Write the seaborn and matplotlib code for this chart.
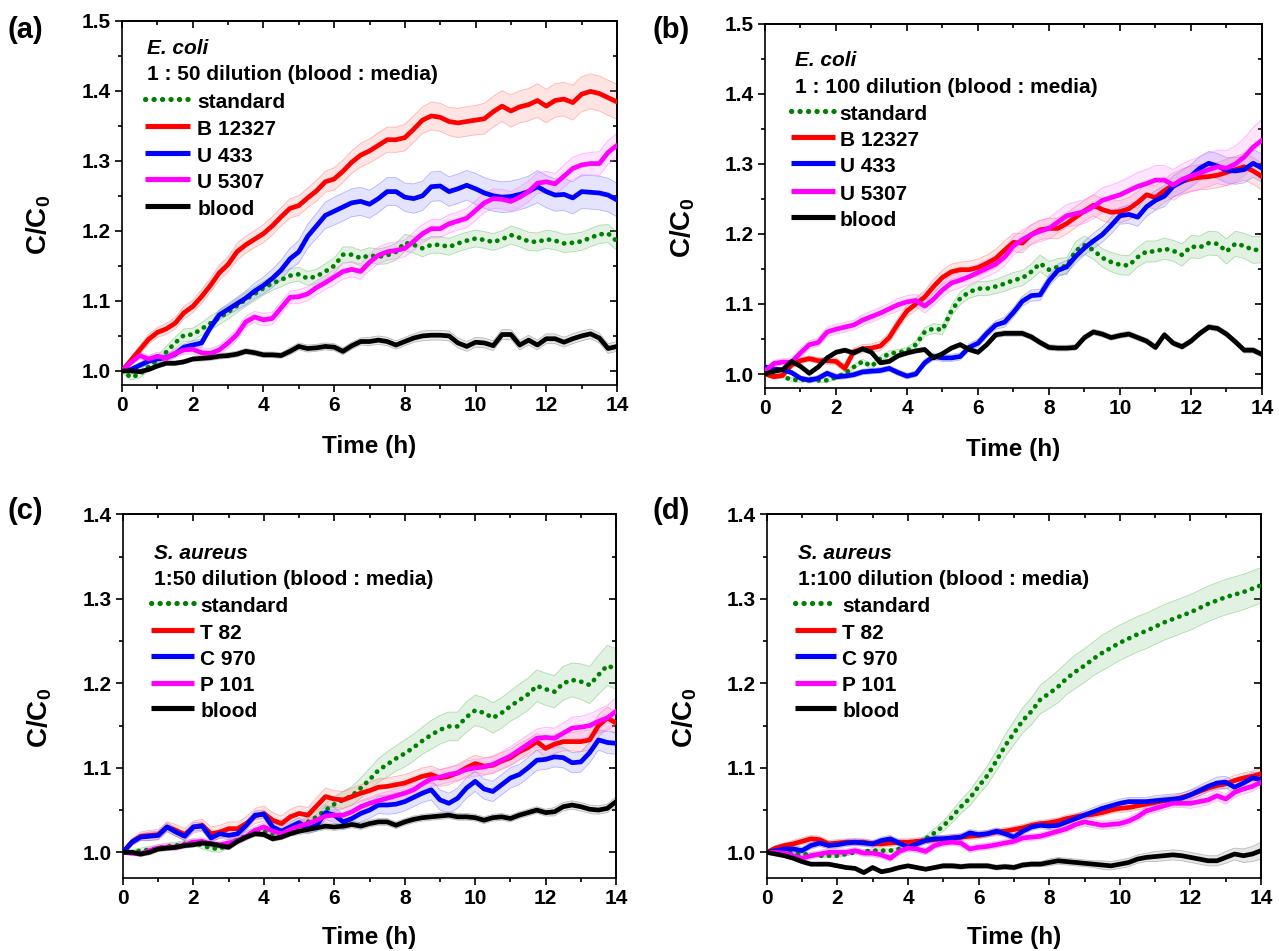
import numpy as np
import matplotlib
matplotlib.use("Agg")
import matplotlib.pyplot as plt
from matplotlib.lines import Line2D
from matplotlib.ticker import MultipleLocator, FormatStrFormatter
import seaborn as sns

# ---------------------------------------------------------------- data
# sampling times (h), every 15 min over 14 h
time_h = np.arange(57) * 0.25

# (a) E. coli, 1:50 dilution
a_standard = [1.000,0.991,0.995,1.006,1.015,1.027,1.040,1.051,1.052,1.060,
              1.068,1.076,1.084,1.093,1.102,1.110,1.118,1.125,1.130,1.136,
              1.138,1.132,1.135,1.142,1.150,1.166,1.166,1.161,1.165,1.163,
              1.165,1.170,1.183,1.180,1.175,1.180,1.180,1.177,1.182,1.186,
              1.189,1.187,1.184,1.188,1.194,1.190,1.185,1.184,1.188,1.186,
              1.182,1.183,1.185,1.190,1.195,1.196,1.185]
a_B12327 = [1.000,1.015,1.030,1.045,1.055,1.060,1.068,1.083,1.092,1.106,
            1.122,1.140,1.152,1.170,1.180,1.188,1.196,1.207,1.220,1.232,
            1.236,1.247,1.257,1.270,1.274,1.285,1.298,1.308,1.314,1.322,
            1.330,1.330,1.333,1.345,1.358,1.364,1.362,1.356,1.354,1.356,
            1.358,1.360,1.370,1.378,1.371,1.377,1.380,1.386,1.378,1.386,
            1.388,1.383,1.395,1.399,1.396,1.390,1.384]
a_U433 = [1.000,1.002,1.008,1.014,1.017,1.019,1.024,1.034,1.037,1.040,
          1.062,1.080,1.088,1.096,1.104,1.114,1.122,1.132,1.144,1.160,
          1.170,1.192,1.207,1.222,1.228,1.234,1.240,1.242,1.238,1.246,
          1.256,1.256,1.248,1.246,1.250,1.263,1.264,1.256,1.260,1.265,
          1.260,1.254,1.250,1.248,1.249,1.252,1.256,1.263,1.256,1.251,
          1.252,1.247,1.256,1.255,1.254,1.251,1.244]
a_U5307 = [1.000,1.012,1.022,1.017,1.021,1.018,1.025,1.030,1.031,1.026,
           1.025,1.030,1.040,1.052,1.070,1.077,1.073,1.075,1.090,1.105,
           1.106,1.110,1.119,1.126,1.134,1.142,1.145,1.142,1.155,1.165,
           1.170,1.172,1.175,1.185,1.196,1.203,1.203,1.210,1.214,1.218,
           1.229,1.240,1.246,1.245,1.242,1.248,1.256,1.268,1.270,1.267,
           1.278,1.289,1.294,1.296,1.296,1.312,1.322]
a_blood = [1.000,1.000,0.999,1.002,1.007,1.011,1.011,1.013,1.017,1.018,
           1.019,1.021,1.022,1.024,1.028,1.026,1.023,1.023,1.022,1.028,
           1.035,1.032,1.033,1.035,1.034,1.028,1.036,1.042,1.042,1.044,
           1.042,1.037,1.042,1.047,1.050,1.051,1.051,1.050,1.040,1.035,
           1.041,1.040,1.036,1.052,1.052,1.037,1.044,1.037,1.046,1.046,
           1.041,1.046,1.050,1.053,1.047,1.032,1.035]

# standard deviations for (a)
a_standard_sd = [0.002,0.004,0.005,0.006,0.007,0.008,0.008,0.009,0.009,0.009,
                 0.010,0.010,0.010,0.010,0.010,0.010,0.010,0.010,0.010,0.010,
                 0.010,0.010,0.010,0.011,0.011,0.011,0.011,0.011,0.011,0.011,
                 0.012,0.012,0.012,0.012,0.012,0.012,0.012,0.012,0.012,0.012,
                 0.012,0.012,0.012,0.012,0.013,0.013,0.013,0.013,0.013,0.013,
                 0.013,0.013,0.013,0.013,0.013,0.013,0.013]
a_B12327_sd = [0.003,0.005,0.006,0.007,0.007,0.008,0.008,0.009,0.009,0.010,
               0.010,0.011,0.011,0.012,0.012,0.012,0.013,0.013,0.013,0.014,
               0.014,0.014,0.015,0.015,0.016,0.016,0.016,0.017,0.017,0.018,
               0.018,0.018,0.019,0.019,0.019,0.020,0.020,0.020,0.021,0.021,
               0.021,0.022,0.022,0.022,0.023,0.023,0.023,0.024,0.024,0.024,
               0.024,0.025,0.025,0.025,0.025,0.025,0.025]
a_U433_sd = [0.002,0.003,0.004,0.004,0.005,0.005,0.005,0.005,0.006,0.006,
             0.006,0.007,0.008,0.009,0.010,0.011,0.012,0.013,0.014,0.015,
             0.016,0.017,0.018,0.019,0.020,0.020,0.020,0.020,0.020,0.020,
             0.020,0.020,0.020,0.021,0.021,0.021,0.021,0.021,0.021,0.021,
             0.022,0.022,0.022,0.022,0.022,0.022,0.022,0.023,0.023,0.023,
             0.023,0.023,0.024,0.024,0.024,0.024,0.024]
a_U5307_sd = [0.002,0.004,0.005,0.005,0.006,0.006,0.006,0.006,0.007,0.007,
              0.007,0.007,0.008,0.008,0.008,0.008,0.009,0.009,0.009,0.009,
              0.010,0.010,0.010,0.010,0.011,0.011,0.011,0.011,0.012,0.012,
              0.012,0.012,0.012,0.013,0.013,0.013,0.013,0.013,0.013,0.014,
              0.014,0.014,0.014,0.014,0.014,0.015,0.015,0.015,0.015,0.015,
              0.016,0.016,0.016,0.016,0.017,0.017,0.017]
a_blood_sd = [0.001,0.002,0.002,0.003,0.003,0.003,0.003,0.003,0.003,0.004,
              0.004,0.004,0.004,0.004,0.004,0.004,0.004,0.004,0.004,0.005,
              0.005,0.005,0.005,0.005,0.005,0.005,0.005,0.005,0.006,0.006,
              0.006,0.006,0.006,0.006,0.007,0.007,0.007,0.007,0.007,0.007,
              0.007,0.007,0.007,0.007,0.007,0.007,0.007,0.007,0.007,0.007,
              0.007,0.007,0.007,0.007,0.007,0.007,0.007]

# (b) E. coli, 1:100 dilution
b_standard = [1.000,1.000,0.996,0.992,0.991,0.993,0.991,0.991,0.995,1.001,
              1.010,1.018,1.011,1.022,1.029,1.031,1.033,1.042,1.060,1.065,
              1.063,1.090,1.108,1.117,1.122,1.122,1.125,1.129,1.134,1.137,
              1.146,1.158,1.149,1.153,1.154,1.176,1.184,1.177,1.166,1.160,
              1.156,1.155,1.167,1.175,1.175,1.179,1.176,1.170,1.182,1.181,
              1.187,1.186,1.175,1.186,1.183,1.177,1.178]
b_B12327 = [1.000,0.996,0.998,1.013,1.019,1.022,1.019,1.019,1.018,1.008,
            1.032,1.036,1.037,1.040,1.052,1.072,1.090,1.100,1.110,1.125,
            1.138,1.146,1.149,1.149,1.152,1.158,1.165,1.177,1.188,1.187,
            1.199,1.206,1.208,1.208,1.215,1.224,1.233,1.241,1.235,1.231,
            1.232,1.236,1.245,1.256,1.252,1.262,1.270,1.275,1.279,1.281,
            1.282,1.284,1.288,1.292,1.296,1.290,1.282]
b_U433 = [1.010,1.007,1.006,1.002,0.994,0.991,0.994,1.001,0.996,0.997,
          0.999,1.003,1.004,1.005,1.008,1.002,0.997,1.000,1.016,1.025,
          1.023,1.023,1.025,1.038,1.044,1.058,1.070,1.074,1.088,1.104,
          1.112,1.113,1.133,1.148,1.153,1.168,1.180,1.190,1.199,1.212,
          1.226,1.228,1.224,1.239,1.248,1.254,1.268,1.275,1.283,1.294,
          1.301,1.297,1.291,1.290,1.292,1.301,1.294]
b_U5307 = [1.004,1.015,1.017,1.017,1.030,1.042,1.045,1.060,1.064,1.067,
           1.070,1.077,1.082,1.087,1.093,1.099,1.103,1.105,1.097,1.107,
           1.120,1.130,1.134,1.139,1.145,1.151,1.157,1.167,1.183,1.192,
           1.199,1.204,1.208,1.217,1.226,1.229,1.232,1.239,1.248,1.252,
           1.256,1.262,1.268,1.272,1.277,1.277,1.270,1.278,1.283,1.287,
           1.292,1.296,1.294,1.300,1.310,1.324,1.334]
b_blood = [1.000,1.004,1.006,1.018,1.011,1.001,1.010,1.023,1.031,1.034,
           1.030,1.036,1.031,1.016,1.018,1.026,1.030,1.033,1.035,1.023,
           1.029,1.037,1.042,1.035,1.031,1.042,1.056,1.058,1.058,1.058,
           1.053,1.045,1.038,1.037,1.037,1.038,1.052,1.060,1.057,1.052,
           1.055,1.057,1.052,1.047,1.038,1.056,1.044,1.039,1.047,1.058,
           1.067,1.065,1.057,1.046,1.034,1.034,1.028]

b_standard_sd = [0.002,0.002,0.002,0.003,0.003,0.003,0.003,0.003,0.003,0.003,
                 0.003,0.003,0.004,0.004,0.004,0.004,0.005,0.005,0.006,0.007,
                 0.007,0.008,0.009,0.009,0.010,0.010,0.010,0.011,0.011,0.011,
                 0.011,0.012,0.012,0.012,0.012,0.013,0.013,0.013,0.013,0.014,
                 0.014,0.014,0.014,0.015,0.015,0.015,0.015,0.016,0.016,0.016,
                 0.017,0.017,0.018,0.018,0.018,0.019,0.019]
b_B12327_sd = [0.002,0.003,0.003,0.004,0.004,0.004,0.004,0.005,0.005,0.005,
               0.005,0.006,0.006,0.007,0.007,0.008,0.008,0.009,0.009,0.010,
               0.010,0.011,0.011,0.012,0.012,0.012,0.013,0.013,0.013,0.014,
               0.014,0.014,0.014,0.015,0.015,0.015,0.015,0.015,0.016,0.016,
               0.016,0.016,0.016,0.017,0.017,0.017,0.017,0.018,0.018,0.018,
               0.018,0.018,0.019,0.019,0.019,0.019,0.019]
b_U433_sd = [0.003,0.003,0.003,0.003,0.003,0.004,0.004,0.004,0.004,0.004,
             0.004,0.004,0.004,0.004,0.004,0.004,0.004,0.004,0.005,0.005,
             0.005,0.005,0.005,0.005,0.006,0.006,0.006,0.007,0.007,0.007,
             0.008,0.008,0.008,0.009,0.009,0.010,0.010,0.011,0.011,0.012,
             0.012,0.013,0.013,0.014,0.014,0.015,0.015,0.016,0.016,0.017,
             0.017,0.018,0.018,0.019,0.019,0.020,0.020]
b_U5307_sd = [0.002,0.004,0.005,0.005,0.006,0.006,0.006,0.007,0.007,0.007,
              0.007,0.008,0.008,0.008,0.008,0.009,0.009,0.009,0.010,0.010,
              0.010,0.011,0.011,0.011,0.012,0.012,0.012,0.013,0.013,0.014,
              0.014,0.015,0.015,0.016,0.016,0.017,0.017,0.017,0.018,0.018,
              0.019,0.019,0.020,0.020,0.021,0.021,0.022,0.022,0.023,0.023,
              0.024,0.024,0.025,0.026,0.027,0.028,0.030]
b_blood_sd = [0.002,0.002,0.002,0.002,0.002,0.002,0.002,0.002,0.003,0.003,
              0.003,0.003,0.003,0.003,0.003,0.003,0.003,0.003,0.003,0.003,
              0.003,0.003,0.003,0.003,0.003,0.003,0.004,0.004,0.004,0.004,
              0.004,0.004,0.004,0.004,0.004,0.004,0.004,0.004,0.004,0.004,
              0.004,0.004,0.004,0.004,0.004,0.004,0.004,0.004,0.004,0.004,
              0.004,0.004,0.004,0.004,0.004,0.004,0.004]

# (c) S. aureus, 1:50 dilution
c_standard = [1.000,1.000,1.002,1.003,1.005,1.007,1.008,1.010,1.012,1.008,
              1.005,1.004,1.010,1.015,1.020,1.024,1.025,1.020,1.022,1.028,
              1.032,1.036,1.042,1.050,1.057,1.062,1.067,1.076,1.086,1.097,
              1.104,1.111,1.117,1.124,1.132,1.139,1.145,1.149,1.149,1.160,
              1.168,1.165,1.159,1.165,1.173,1.180,1.187,1.197,1.193,1.190,
              1.200,1.204,1.202,1.198,1.210,1.221,1.217]
c_T82 = [1.000,1.012,1.019,1.020,1.021,1.030,1.026,1.021,1.030,1.032,
         1.022,1.024,1.028,1.028,1.034,1.043,1.046,1.038,1.034,1.042,
         1.046,1.044,1.055,1.066,1.063,1.062,1.066,1.070,1.073,1.077,
         1.078,1.080,1.082,1.086,1.090,1.092,1.088,1.090,1.094,1.100,
         1.105,1.102,1.103,1.108,1.112,1.119,1.124,1.131,1.123,1.128,
         1.131,1.131,1.131,1.133,1.150,1.159,1.153]
c_C970 = [1.000,1.012,1.018,1.019,1.020,1.030,1.024,1.019,1.030,1.031,
          1.017,1.022,1.020,1.022,1.032,1.044,1.045,1.030,1.025,1.030,
          1.035,1.028,1.032,1.047,1.044,1.036,1.040,1.046,1.050,1.056,
          1.056,1.057,1.060,1.065,1.070,1.074,1.062,1.058,1.064,1.076,
          1.084,1.075,1.072,1.080,1.088,1.092,1.100,1.109,1.110,1.113,
          1.112,1.106,1.107,1.118,1.133,1.130,1.129]
c_P101 = [1.000,0.999,0.998,1.002,1.005,1.006,1.006,1.009,1.012,1.013,
          1.010,1.009,1.011,1.014,1.019,1.026,1.030,1.025,1.022,1.027,
          1.031,1.034,1.038,1.043,1.044,1.044,1.048,1.054,1.058,1.061,
          1.064,1.067,1.070,1.074,1.081,1.087,1.089,1.092,1.094,1.098,
          1.100,1.101,1.104,1.109,1.114,1.121,1.128,1.135,1.136,1.135,
          1.141,1.147,1.148,1.150,1.155,1.159,1.167]
c_blood = [1.000,1.000,0.998,1.000,1.004,1.005,1.006,1.008,1.009,1.011,
           1.010,1.008,1.006,1.013,1.018,1.022,1.021,1.016,1.018,1.022,
           1.025,1.027,1.029,1.031,1.030,1.031,1.033,1.031,1.034,1.036,
           1.036,1.032,1.036,1.039,1.041,1.042,1.043,1.044,1.042,1.042,
           1.041,1.038,1.041,1.042,1.040,1.044,1.047,1.050,1.047,1.048,
           1.054,1.056,1.054,1.051,1.050,1.052,1.060]

c_standard_sd = [0.002,0.003,0.003,0.004,0.004,0.004,0.004,0.004,0.004,0.004,
                 0.004,0.004,0.005,0.005,0.005,0.005,0.005,0.005,0.006,0.006,
                 0.006,0.006,0.007,0.008,0.009,0.010,0.011,0.012,0.013,0.014,
                 0.015,0.015,0.016,0.016,0.016,0.017,0.017,0.017,0.017,0.018,
                 0.018,0.018,0.018,0.018,0.018,0.019,0.019,0.019,0.019,0.019,
                 0.020,0.020,0.021,0.022,0.023,0.024,0.024]
c_T82_sd = [0.002,0.004,0.005,0.006,0.006,0.006,0.007,0.007,0.007,0.007,
            0.008,0.008,0.008,0.008,0.008,0.009,0.009,0.009,0.009,0.009,
            0.009,0.009,0.010,0.010,0.010,0.010,0.010,0.010,0.010,0.010,
            0.010,0.010,0.010,0.010,0.010,0.010,0.010,0.010,0.010,0.010,
            0.010,0.010,0.010,0.010,0.010,0.010,0.010,0.010,0.011,0.011,
            0.011,0.011,0.012,0.012,0.013,0.013,0.013]
c_C970_sd = [0.002,0.004,0.004,0.005,0.005,0.005,0.005,0.005,0.005,0.005,
             0.005,0.005,0.005,0.005,0.005,0.005,0.005,0.005,0.006,0.006,
             0.006,0.006,0.007,0.008,0.009,0.009,0.009,0.010,0.010,0.010,
             0.011,0.011,0.011,0.011,0.011,0.012,0.012,0.012,0.012,0.012,
             0.012,0.012,0.012,0.012,0.012,0.012,0.012,0.012,0.012,0.012,
             0.012,0.012,0.012,0.012,0.012,0.013,0.013]
c_P101_sd = [0.002,0.003,0.003,0.004,0.004,0.004,0.004,0.004,0.004,0.004,
             0.004,0.004,0.005,0.005,0.005,0.005,0.005,0.005,0.005,0.006,
             0.006,0.006,0.006,0.006,0.007,0.007,0.007,0.007,0.007,0.008,
             0.008,0.008,0.008,0.008,0.009,0.009,0.009,0.009,0.009,0.010,
             0.010,0.010,0.010,0.010,0.011,0.011,0.011,0.011,0.012,0.012,
             0.012,0.013,0.013,0.014,0.014,0.015,0.016]
c_blood_sd = [0.002,0.002,0.003,0.003,0.003,0.003,0.003,0.003,0.003,0.003,
              0.003,0.003,0.003,0.003,0.003,0.003,0.003,0.003,0.003,0.003,
              0.004,0.004,0.004,0.004,0.004,0.004,0.004,0.004,0.004,0.004,
              0.004,0.004,0.004,0.004,0.004,0.004,0.004,0.004,0.004,0.004,
              0.004,0.004,0.004,0.004,0.004,0.004,0.004,0.004,0.004,0.005,
              0.005,0.005,0.005,0.005,0.005,0.005,0.006]

# (d) S. aureus, 1:100 dilution
d_standard = [1.000,1.000,1.000,0.999,0.998,0.997,0.996,0.996,0.996,0.998,
              1.000,1.001,1.002,1.002,1.002,1.004,1.006,1.010,1.016,1.023,
              1.031,1.042,1.054,1.064,1.078,1.091,1.108,1.126,1.141,1.156,
              1.167,1.181,1.188,1.196,1.206,1.214,1.221,1.229,1.236,1.242,
              1.248,1.253,1.258,1.262,1.267,1.272,1.276,1.280,1.284,1.289,
              1.294,1.298,1.302,1.305,1.308,1.312,1.316]
d_T82 = [1.000,1.005,1.008,1.010,1.013,1.016,1.015,1.010,1.011,1.012,
         1.012,1.012,1.010,1.010,1.011,1.012,1.012,1.013,1.014,1.015,
         1.016,1.017,1.018,1.019,1.020,1.022,1.024,1.025,1.027,1.029,
         1.032,1.034,1.035,1.037,1.040,1.042,1.044,1.045,1.047,1.050,
         1.052,1.053,1.055,1.057,1.059,1.061,1.062,1.065,1.068,1.072,
         1.076,1.079,1.081,1.085,1.088,1.090,1.093]
d_C970 = [1.000,1.002,1.004,1.004,1.002,1.008,1.011,1.008,1.009,1.011,
          1.012,1.011,1.010,1.014,1.016,1.011,1.006,1.010,1.014,1.016,
          1.016,1.017,1.018,1.023,1.021,1.022,1.025,1.022,1.018,1.025,
          1.030,1.032,1.031,1.032,1.036,1.040,1.044,1.048,1.052,1.055,
          1.058,1.060,1.060,1.060,1.061,1.062,1.063,1.064,1.068,1.073,
          1.078,1.082,1.083,1.077,1.082,1.088,1.086]
d_P101 = [1.000,1.000,0.999,0.996,0.993,0.996,0.998,1.000,1.000,1.000,
          1.002,0.999,0.999,0.997,0.993,1.001,1.005,1.004,1.001,1.008,
          1.011,1.012,1.011,1.004,1.006,1.007,1.009,1.011,1.013,1.017,
          1.018,1.019,1.022,1.025,1.028,1.033,1.036,1.034,1.032,1.033,
          1.034,1.037,1.042,1.049,1.052,1.055,1.058,1.058,1.058,1.060,
          1.062,1.067,1.063,1.071,1.075,1.078,1.083]
d_blood = [1.000,0.998,0.996,0.993,0.989,0.986,0.986,0.986,0.984,0.982,
           0.981,0.976,0.982,0.977,0.979,0.982,0.984,0.982,0.980,0.982,
           0.984,0.984,0.983,0.984,0.984,0.984,0.982,0.983,0.982,0.985,
           0.986,0.986,0.988,0.990,0.989,0.988,0.987,0.986,0.985,0.984,
           0.986,0.988,0.992,0.994,0.995,0.996,0.997,0.996,0.994,0.992,
           0.990,0.990,0.994,0.998,0.996,0.998,1.002]

d_standard_sd = [0.001,0.002,0.002,0.002,0.002,0.002,0.002,0.002,0.002,0.002,
                 0.002,0.002,0.002,0.002,0.002,0.002,0.003,0.003,0.004,0.005,
                 0.006,0.007,0.008,0.009,0.010,0.011,0.012,0.013,0.014,0.015,
                 0.016,0.017,0.018,0.019,0.019,0.020,0.020,0.020,0.021,0.021,
                 0.021,0.021,0.021,0.021,0.021,0.021,0.021,0.021,0.021,0.021,
                 0.021,0.021,0.021,0.021,0.021,0.021,0.021]
d_T82_sd = [0.002,0.003,0.003,0.004,0.004,0.004,0.004,0.004,0.004,0.004,
            0.004,0.004,0.004,0.004,0.004,0.004,0.004,0.004,0.004,0.004,
            0.004,0.004,0.004,0.004,0.004,0.004,0.004,0.004,0.004,0.004,
            0.004,0.004,0.004,0.004,0.004,0.004,0.004,0.004,0.004,0.004,
            0.005,0.005,0.005,0.005,0.005,0.005,0.005,0.005,0.005,0.005,
            0.005,0.005,0.006,0.006,0.006,0.006,0.006]
d_C970_sd = [0.002,0.003,0.003,0.004,0.004,0.004,0.004,0.004,0.004,0.004,
             0.004,0.004,0.004,0.004,0.004,0.004,0.004,0.004,0.004,0.004,
             0.004,0.004,0.004,0.004,0.004,0.004,0.004,0.004,0.004,0.004,
             0.004,0.004,0.004,0.005,0.005,0.005,0.005,0.005,0.005,0.005,
             0.005,0.005,0.005,0.005,0.006,0.006,0.006,0.006,0.006,0.006,
             0.006,0.007,0.007,0.007,0.007,0.007,0.007]
d_P101_sd = [0.002,0.003,0.003,0.004,0.004,0.004,0.004,0.004,0.004,0.004,
             0.004,0.004,0.004,0.004,0.004,0.004,0.004,0.004,0.004,0.004,
             0.004,0.004,0.004,0.004,0.004,0.004,0.004,0.004,0.004,0.004,
             0.004,0.004,0.004,0.004,0.004,0.005,0.005,0.005,0.005,0.005,
             0.005,0.005,0.005,0.005,0.005,0.005,0.005,0.005,0.006,0.006,
             0.006,0.006,0.006,0.006,0.006,0.006,0.006]
d_blood_sd = [0.001,0.002,0.002,0.002,0.002,0.002,0.002,0.002,0.002,0.002,
              0.002,0.002,0.002,0.002,0.002,0.002,0.002,0.002,0.002,0.002,
              0.003,0.003,0.003,0.003,0.003,0.003,0.003,0.003,0.003,0.003,
              0.003,0.003,0.004,0.004,0.004,0.004,0.004,0.004,0.005,0.005,
              0.005,0.005,0.005,0.005,0.006,0.006,0.006,0.006,0.006,0.006,
              0.006,0.006,0.007,0.007,0.008,0.009,0.010]

ecoli_labels = ["standard", "B 12327", "U 433", "U 5307", "blood"]
saureus_labels = ["standard", "T 82", "C 970", "P 101", "blood"]
x_ticks = [0, 2, 4, 6, 8, 10, 12, 14]

# ---------------------------------------------------------------- style
sns.set_theme(style="ticks")
plt.rcParams["font.family"] = ["Liberation Sans", "DejaVu Sans"]
plt.rcParams["mathtext.fontset"] = "custom"
plt.rcParams["mathtext.rm"] = "Liberation Sans"
plt.rcParams["mathtext.bf"] = "Liberation Sans:bold"
plt.rcParams["mathtext.default"] = "bf"
plt.rcParams.update({"text.color": "black", "axes.labelcolor": "black",
                     "xtick.color": "black", "ytick.color": "black",
                     "axes.edgecolor": "black"})

COLORS = ["#008000", "#ff0000", "#0000ff", "#ff00ff", "#000000"]
BAND = ["#5fb85f", "#ff6a6a", "#6a6aff", "#ff6aff", "#777777"]
DOTS = (0, (0.05, 1.6))
STYLES = [DOTS, "-", "-", "-", "-"]
LW = 3.4

fig = plt.figure(figsize=(12.79, 9.51), dpi=100)


def draw_panel(pos, tag, series, sds, labels, ylim, species, dilution, key):
    ax = fig.add_axes(pos)
    t = np.asarray(time_h)
    for vals, sd, col, band in zip(series, sds, COLORS, BAND):
        v = np.asarray(vals)
        s = np.asarray(sd)
        ax.fill_between(t, v - s, v + s, facecolor=band, alpha=0.18,
                        edgecolor="none", zorder=1)
        ax.plot(t, v - s, color=band, lw=0.6, alpha=0.45, zorder=1)
        ax.plot(t, v + s, color=band, lw=0.6, alpha=0.45, zorder=1)
    for vals, col, ls in zip(series, COLORS, STYLES):
        sns.lineplot(x=time_h, y=vals, ax=ax, color=col, linewidth=LW,
                     linestyle=ls, dash_capstyle="round",
                     solid_capstyle="round", legend=False, zorder=3)

    ax.set_xlim(0, 14)
    ax.set_ylim(*ylim)
    ax.set_xticks(x_ticks)
    ax.xaxis.set_minor_locator(MultipleLocator(1))
    ax.yaxis.set_major_locator(MultipleLocator(0.1))
    ax.yaxis.set_minor_locator(MultipleLocator(0.05))
    ax.yaxis.set_major_formatter(FormatStrFormatter("%.1f"))
    ax.tick_params(which="both", direction="out", width=1.2, color="black",
                   labelsize=15, pad=3, labelcolor="black")
    ax.tick_params(which="major", length=5)
    ax.tick_params(which="minor", length=3)
    for lab in ax.get_xticklabels() + ax.get_yticklabels():
        lab.set_fontweight("bold")
    for sp in ax.spines.values():
        sp.set_linewidth(1.2)
        sp.set_color("black")
        sp.set_visible(True)

    # mirrored inward ticks on the top and right edges
    top = ax.secondary_xaxis("top")
    top.set_xticks(x_ticks)
    top.xaxis.set_minor_locator(MultipleLocator(1))
    top.tick_params(which="both", direction="in", width=1.2, labeltop=False,
                    color="black")
    top.tick_params(which="major", length=5)
    top.tick_params(which="minor", length=3)
    right = ax.secondary_yaxis("right")
    right.yaxis.set_major_locator(MultipleLocator(0.1))
    right.yaxis.set_minor_locator(MultipleLocator(0.05))
    right.tick_params(which="both", direction="in", width=1.2,
                      labelright=False, color="black")
    right.tick_params(which="major", length=5)
    right.tick_params(which="minor", length=3)

    ax.set_xlabel("Time (h)", fontsize=17.5, fontweight="bold", color="black")
    ax.xaxis.set_label_coords(0.5, key["xlab"])
    ax.xaxis.label.set_va("center")
    ax.set_ylabel(r"C/C$_0$", fontsize=20, fontweight="bold", color="black")
    ax.yaxis.set_label_coords(key["ylab"], 0.44)
    ax.yaxis.label.set_va("center")

    # key block: species, dilution and one row per series
    ax.text(key["sx"], key["rows"][0], species, transform=ax.transAxes,
            fontsize=15, fontweight="bold", style="italic", color="black",
            va="center_baseline", ha="left")
    ax.text(key["dx"], key["rows"][1], dilution, transform=ax.transAxes,
            fontsize=15, fontweight="bold", color="black",
            va="center_baseline", ha="left")
    for lbl, col, ls, y in zip(labels, COLORS, STYLES, key["rows"][2:]):
        ax.add_line(Line2D([key["h0"], key["h1"]], [y + 0.004, y + 0.004],
                           transform=ax.transAxes, color=col, lw=LW + 0.3,
                           linestyle=ls, dash_capstyle="round",
                           solid_capstyle="butt"))
        ax.text(key["tx"], y, lbl, transform=ax.transAxes, fontsize=15,
                fontweight="bold", color="black",
                va="center_baseline", ha="left")

    fig.text(tag[1], tag[2], tag[0], fontsize=21, fontweight="bold",
             color="black", ha="left", va="center")
    return ax


key_a = dict(sx=0.050, dx=0.050, h0=0.047, h1=0.138, tx=0.152,
             rows=[0.929, 0.857, 0.782, 0.706, 0.633, 0.560, 0.487],
             xlab=-0.170, ylab=-0.168)
key_b = dict(sx=0.061, dx=0.061, h0=0.053, h1=0.140, tx=0.150,
             rows=[0.906, 0.832, 0.757, 0.686, 0.613, 0.538, 0.466],
             xlab=-0.170, ylab=-0.165)
key_c = dict(sx=0.062, dx=0.062, h0=0.056, h1=0.143, tx=0.157,
             rows=[0.899, 0.826, 0.752, 0.677, 0.607, 0.533, 0.462],
             xlab=-0.166, ylab=-0.168)
key_d = dict(sx=0.063, dx=0.063, h0=0.058, h1=0.140, tx=0.153,
             rows=[0.899, 0.826, 0.752, 0.677, 0.607, 0.533, 0.462],
             xlab=-0.166, ylab=-0.165)

draw_panel([0.0954, 0.5952, 0.3870, 0.3831], ("(a)", 0.006, 0.968),
           [a_standard, a_B12327, a_U433, a_U5307, a_blood],
           [a_standard_sd, a_B12327_sd, a_U433_sd, a_U5307_sd, a_blood_sd],
           ecoli_labels, (0.98, 1.5), "E. coli",
           "1 : 50 dilution (blood : media)", key_a)
draw_panel([0.5981, 0.5920, 0.3886, 0.3828], ("(b)", 0.510, 0.968),
           [b_standard, b_B12327, b_U433, b_U5307, b_blood],
           [b_standard_sd, b_B12327_sd, b_U433_sd, b_U5307_sd, b_blood_sd],
           ecoli_labels, (0.98, 1.5), "E. coli",
           "1 : 100 dilution (blood : media)", key_b)
draw_panel([0.0962, 0.0771, 0.3855, 0.3821], ("(c)", 0.006, 0.463),
           [c_standard, c_T82, c_C970, c_P101, c_blood],
           [c_standard_sd, c_T82_sd, c_C970_sd, c_P101_sd, c_blood_sd],
           saureus_labels, (0.97, 1.4), "S. aureus",
           "1:50 dilution (blood : media)", key_c)
draw_panel([0.5995, 0.0771, 0.3865, 0.3821], ("(d)", 0.510, 0.463),
           [d_standard, d_T82, d_C970, d_P101, d_blood],
           [d_standard_sd, d_T82_sd, d_C970_sd, d_P101_sd, d_blood_sd],
           saureus_labels, (0.97, 1.4), "S. aureus",
           "1:100 dilution (blood : media)", key_d)

fig.savefig("out.png", dpi=100, facecolor="white")
